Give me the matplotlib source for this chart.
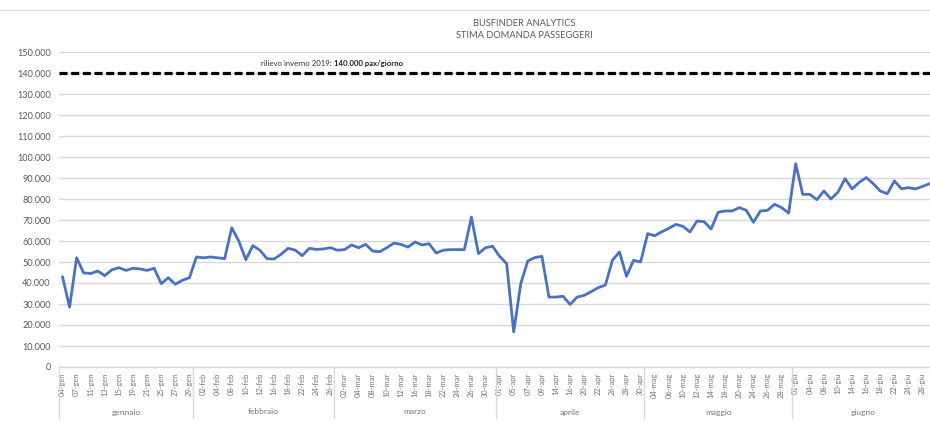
import matplotlib
matplotlib.use("Agg")
import matplotlib.pyplot as plt
import matplotlib.transforms as mtransforms
from matplotlib.lines import Line2D
import pandas as pd

plt.rcParams['font.family'] = ['Lato', 'DejaVu Sans']
plt.rcParams['lines.scale_dashes'] = False

# ---- data -------------------------------------------------------------
title_lines = ["BUSFINDER ANALYTICS", "STIMA DOMANDA PASSEGGERI"]
start_date = "2021-01-04"
end_date = "2021-06-29"
excluded_days = ["2021-01-06", "2021-04-13", "2021-06-02"]
month_abbr = {1: "gen", 2: "feb", 3: "mar", 4: "apr", 5: "mag", 6: "giu"}
month_names = {1: "gennaio", 2: "febbraio", 3: "marzo", 4: "aprile",
               5: "maggio", 6: "giugno"}

pax_jan = [43.0, 28.5, 52.0, 44.8, 44.5, 45.7, 43.5, 46.3, 47.3, 46.0,
           47.0, 46.7, 46.0, 47.0, 39.7, 42.5, 39.4, 41.3, 42.5]
pax_feb = [52.4, 52.0, 52.4, 52.0, 51.6, 66.3, 60.0, 51.1, 57.8, 55.6,
           51.6, 51.4, 53.7, 56.5, 55.7, 53.0, 56.5, 56.0, 56.2, 56.8]
pax_mar = [55.6, 55.9, 58.1, 56.8, 58.4, 55.2, 54.9, 56.8, 59.0, 58.4,
           57.1, 59.5, 58.1, 58.7, 54.3, 55.6, 55.9, 55.9, 55.9, 71.4,
           54.0, 56.8, 57.5]
pax_apr = [52.7, 49.2, 16.7, 39.7, 50.5, 52.1, 52.7, 33.3, 33.3, 33.7,
           29.8, 33.3, 34.1, 35.9, 37.8, 39.0, 50.8, 54.8, 43.2, 50.8, 50.0]
pax_may = [63.5, 62.5, 64.4, 66.0, 67.9, 67.0, 64.3, 69.5, 69.2, 65.7,
           73.7, 74.3, 74.3, 75.9, 74.6, 68.9, 74.3, 74.6, 77.5, 75.9, 73.3]
pax_jun = [96.8, 82.2, 82.2, 79.7, 83.8, 80.0, 83.3, 89.7, 84.8, 87.9,
           90.2, 87.3, 83.8, 82.5, 88.6, 84.9, 85.4, 84.8, 86.0, 87.3]

winter_2019 = 140000
winter_label_normal = "rilievo inverno 2019: "
winter_label_bold = "140.000 pax/giorno"
y_ticks = list(range(0, 150001, 10000))

# ---- derived ----------------------------------------------------------
dates = [d for d in pd.bdate_range(start_date, end_date)
         if d.strftime("%Y-%m-%d") not in excluded_days]
values = [v * 1000 for v in pax_jan + pax_feb + pax_mar + pax_apr + pax_may + pax_jun]
date_labels = [f"{d.day:02d}-{month_abbr[d.month]}" for d in dates]
xs = list(range(len(values)))

# ---- figure -----------------------------------------------------------
W, H = 930, 430
fig = plt.figure(figsize=(W / 100, H / 100), dpi=100)
ax_left, ax_right, ax_bottom, ax_top = 59, 930, 367, 52
ax = fig.add_axes([ax_left / W, (H - ax_bottom) / H,
                   (ax_right - ax_left) / W, (ax_bottom - ax_top) / H])

grid_c = "#d9d9d9"
txt_c = "#595959"

ax.set_ylim(0, 150000)
ax.set_xlim(-0.5, 123.05)
ax.set_yticks(y_ticks)
ax.set_yticklabels([f"{t:,}".replace(",", ".") for t in y_ticks],
                   fontsize=6.6, color=txt_c)
ax.yaxis.grid(True, color=grid_c, linewidth=1.0)
ax.set_axisbelow(True)
for s in ["top", "right", "left"]:
    ax.spines[s].set_visible(False)
ax.spines["bottom"].set_color(grid_c)
ax.spines["bottom"].set_linewidth(1.0)
ax.tick_params(axis="y", length=0, pad=6)
ax.tick_params(axis="x", length=0, pad=4)

tick_idx = xs[::2]
ax.set_xticks(tick_idx)
ax.set_xticklabels([date_labels[i] for i in tick_idx], rotation=90,
                   fontsize=5.4, color="#767676")

# series
ax.plot(xs, values, color="#4a72c4", linewidth=2.0, solid_joinstyle="round",
        solid_capstyle="round", clip_on=False, zorder=3)

# reference dashed line
ax.axhline(winter_2019, color="black", linewidth=2.3, dashes=(5.8, 2.6), zorder=2)
xa = (334 - ax_left) / (ax_right - ax_left)
ya = (ax_bottom - 63) / (ax_bottom - ax_top)
ax.text(xa, ya, winter_label_normal, transform=ax.transAxes, ha="right",
        va="center", fontsize=5.6, color="#333333")
ax.text(xa, ya, winter_label_bold, transform=ax.transAxes, ha="left",
        va="center", fontsize=5.6, color="#222222", fontweight="bold")

# month group labels and separators
trans = mtransforms.blended_transform_factory(ax.transData, ax.transAxes)
sep_bottom = (ax_bottom - 418) / (ax_bottom - ax_top)
month_y = (ax_bottom - 412) / (ax_bottom - ax_top)
months = [d.month for d in dates]
bounds = [0]
for i in range(1, len(months)):
    if months[i] != months[i - 1]:
        bounds.append(i)
bounds.append(len(months))
for k in range(len(bounds) - 1):
    a, b = bounds[k], bounds[k + 1]
    ax.plot([a - 0.5, a - 0.5], [0, sep_bottom], transform=trans,
            color=grid_c, linewidth=1.0, clip_on=False)
    ax.text((a + b - 1) / 2, month_y, month_names[months[a]], transform=trans,
            ha="center", va="center", fontsize=6.0, color="#767676")

# title
fig.text(524 / W, 1 - 23 / H, title_lines[0], ha="center", va="center",
         fontsize=6.7, color=txt_c)
fig.text(524 / W, 1 - 36 / H, title_lines[1], ha="center", va="center",
         fontsize=6.7, color=txt_c)

# top border line
fig.add_artist(Line2D([0, 1], [1 - 10 / H, 1 - 10 / H], transform=fig.transFigure,
                      color="#e3e3e3", linewidth=1.0))

fig.savefig("out.png", dpi=100, facecolor="white")
